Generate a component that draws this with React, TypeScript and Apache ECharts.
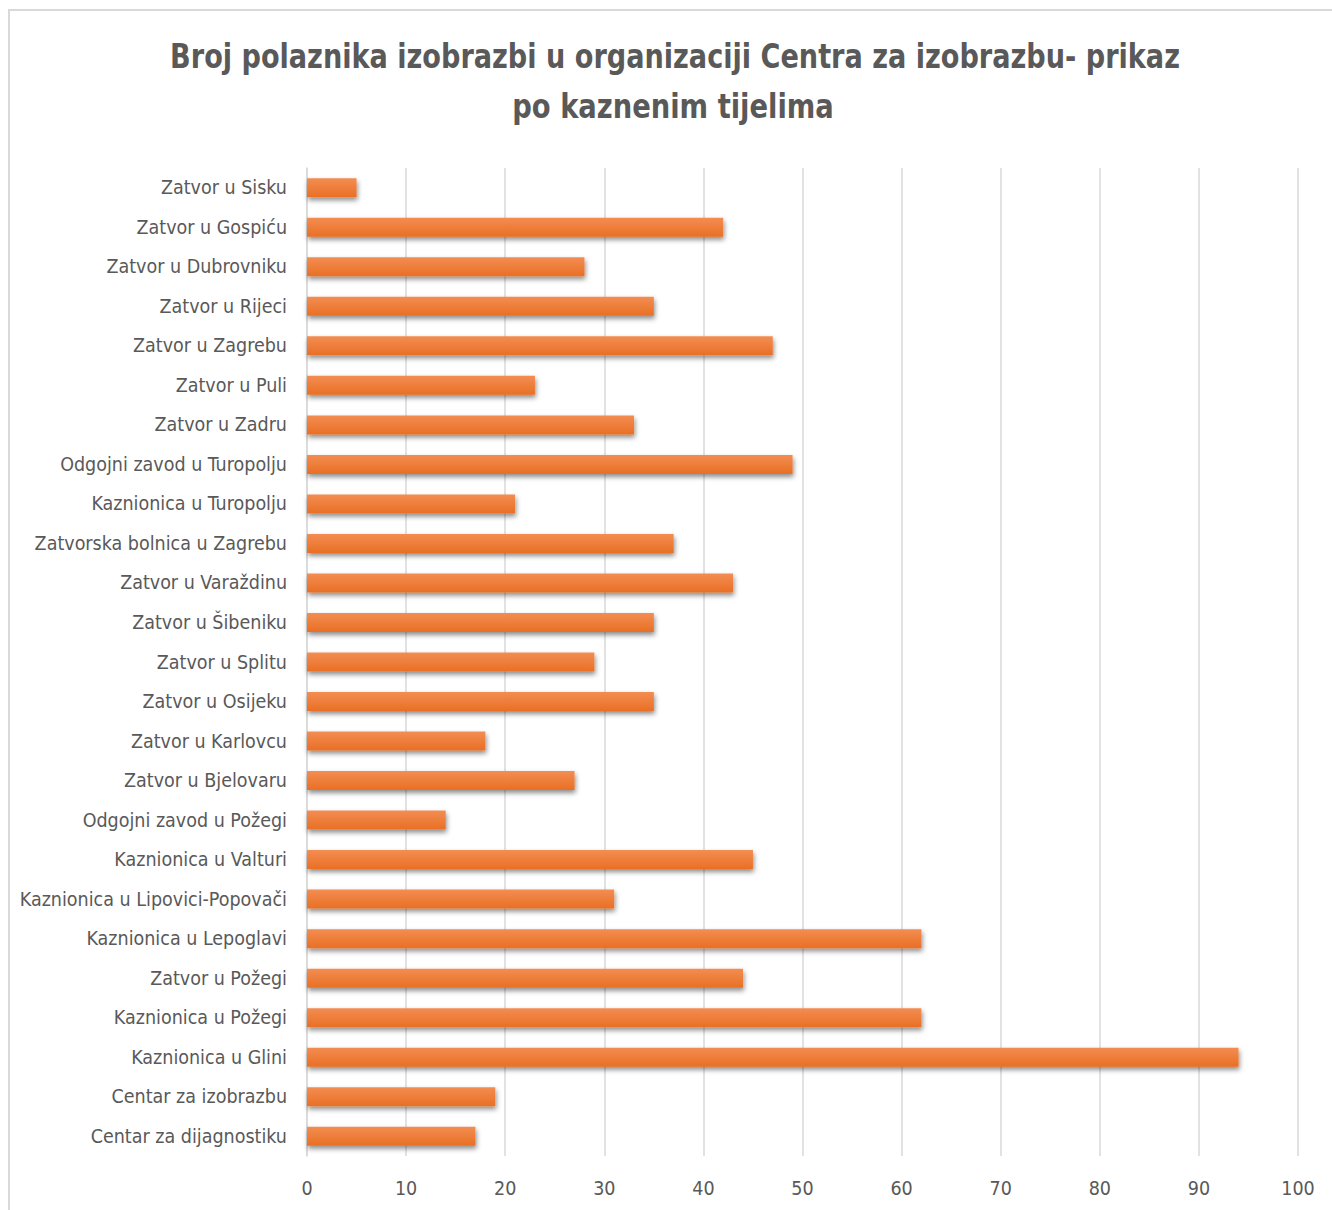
import React, { useEffect, useRef } from "react";
import * as echarts from "echarts";

const titleLine1 = "Broj polaznika izobrazbi u organizaciji Centra za izobrazbu- prikaz";
const titleLine2 = "po kaznenim tijelima";

const categories = [
  "Zatvor u Sisku",
  "Zatvor u Gospiću",
  "Zatvor u Dubrovniku",
  "Zatvor u Rijeci",
  "Zatvor u Zagrebu",
  "Zatvor u Puli",
  "Zatvor u Zadru",
  "Odgojni zavod u Turopolju",
  "Kaznionica u Turopolju",
  "Zatvorska bolnica u Zagrebu",
  "Zatvor u Varaždinu",
  "Zatvor u Šibeniku",
  "Zatvor u Splitu",
  "Zatvor u Osijeku",
  "Zatvor u Karlovcu",
  "Zatvor u Bjelovaru",
  "Odgojni zavod u Požegi",
  "Kaznionica u Valturi",
  "Kaznionica u Lipovici-Popovači",
  "Kaznionica u Lepoglavi",
  "Zatvor u Požegi",
  "Kaznionica u Požegi",
  "Kaznionica u Glini",
  "Centar za izobrazbu",
  "Centar za dijagnostiku",
];

const values = [5, 42, 28, 35, 47, 23, 33, 49, 21, 37, 43, 35, 29, 35, 18, 27, 14, 45, 31, 62, 44, 62, 94, 19, 17];

const xMin = 0;
const xMax = 100;
const xInterval = 10;

const FONT = "'DejaVu Sans Condensed', 'DejaVu Sans', sans-serif";
const TEXT = "#595959";
const GRIDC = "#d9d9d9";

export default function App() {
  const ref = useRef<HTMLDivElement>(null);
  useEffect(() => {
    document.body.style.margin = "0";
    if (!ref.current) return;
    const chart = echarts.init(ref.current, undefined, { renderer: "svg" });
    chart.setOption({
      animation: false,
      backgroundColor: "#ffffff",
      graphic: [
        {
          type: "rect",
          shape: { x: 9, y: 10, width: 2000, height: 2000 },
          style: { fill: "none", stroke: GRIDC, lineWidth: 2 },
          silent: true,
        },
        {
          type: "text",
          x: 675,
          y: 56,
          scaleX: 0.887,
          style: {
            text: titleLine1,
            fill: TEXT,
            font: `bold 34px ${FONT}`,
            align: "center",
            verticalAlign: "middle",
          },
        },
        {
          type: "text",
          x: 673,
          y: 106,
          scaleX: 0.895,
          style: {
            text: titleLine2,
            fill: TEXT,
            font: `bold 34px ${FONT}`,
            align: "center",
            verticalAlign: "middle",
          },
        },
      ],
      grid: { left: 307, right: 34, top: 168, height: 988, containLabel: false, outerBoundsMode: "none" },
      xAxis: {
        type: "value",
        min: xMin,
        max: xMax,
        interval: xInterval,
        axisLine: { show: false },
        axisTick: { show: false },
        splitLine: { show: true, lineStyle: { color: GRIDC, width: 1.5 } },
        axisLabel: { color: TEXT, fontSize: 19.5, fontFamily: FONT, margin: 22 },
      },
      yAxis: {
        type: "category",
        data: categories,
        inverse: true,
        axisLine: { show: true, lineStyle: { color: GRIDC, width: 1.5 } },
        axisTick: { show: false },
        axisLabel: { color: TEXT, fontSize: 19.5, fontFamily: FONT, margin: 20 },
      },
      series: [
        {
          type: "bar",
          data: values,
          barWidth: 19,
          itemStyle: {
            color: new echarts.graphic.LinearGradient(0, 0, 0, 1, [
              { offset: 0, color: "#f38d52" },
              { offset: 1, color: "#e96f24" },
            ]),
            shadowColor: "rgba(0,0,0,0.45)",
            shadowBlur: 5,
            shadowOffsetX: 1,
            shadowOffsetY: 3,
          },
        },
      ],
    });
    return () => chart.dispose();
  }, []);
  return <div ref={ref} style={{ width: 1332, height: 1210 }} />;
}
